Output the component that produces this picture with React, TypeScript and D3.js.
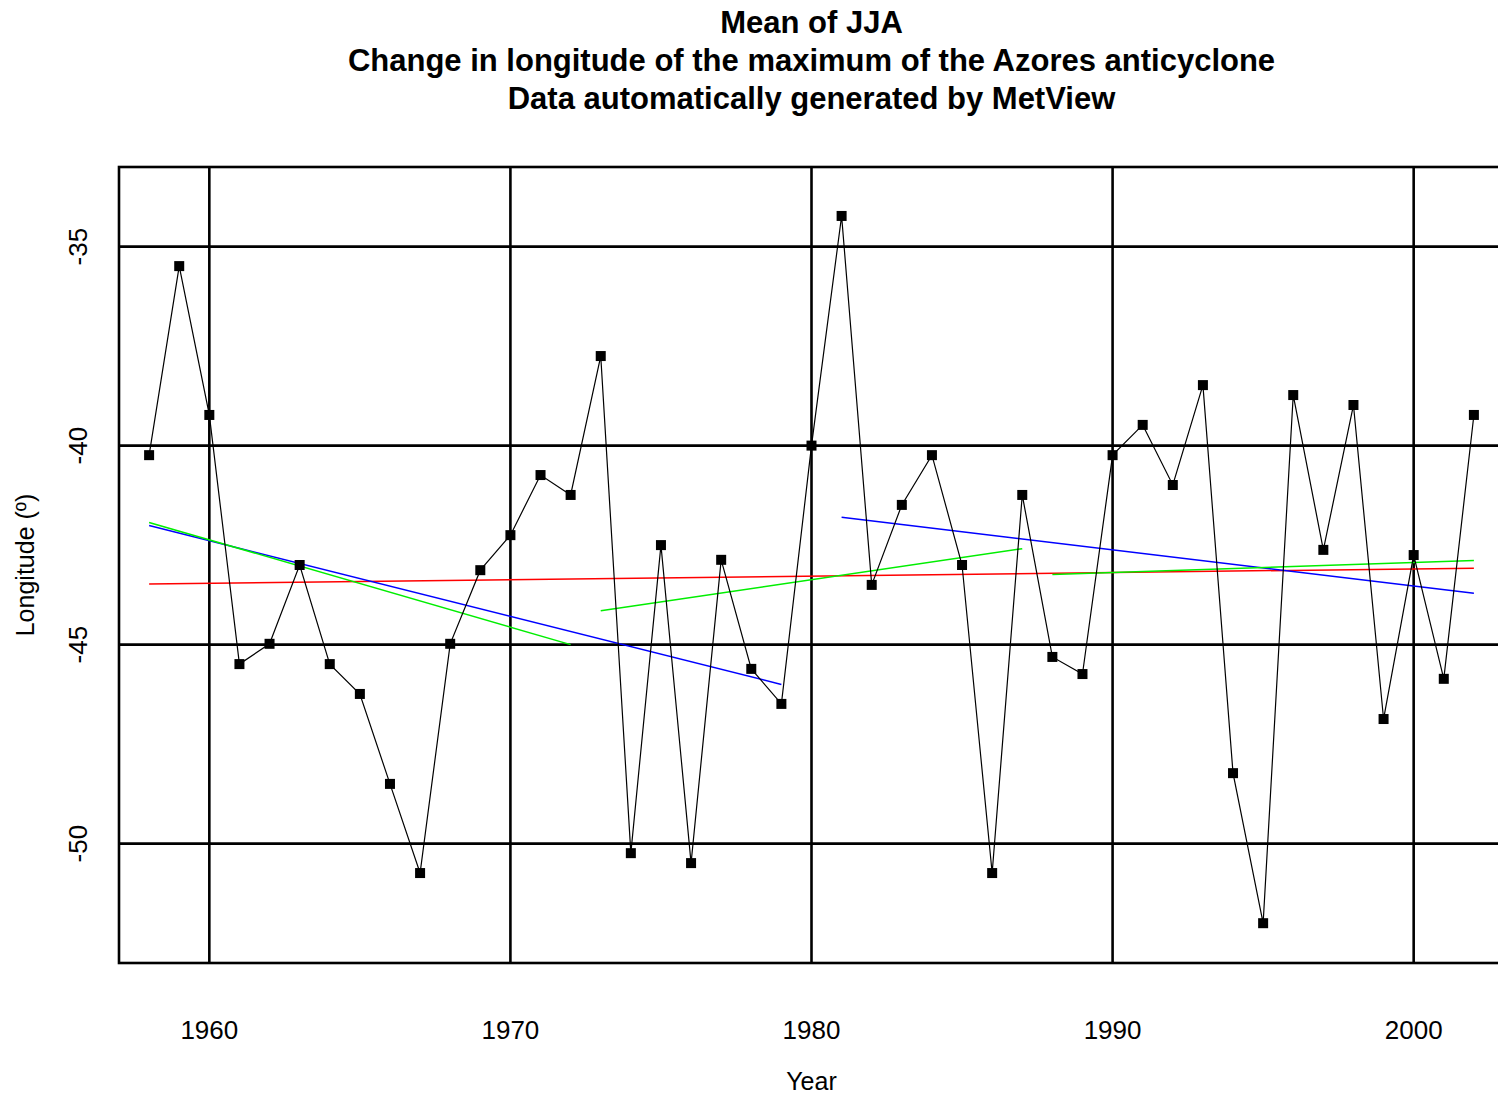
import React from "react";
import * as d3 from "d3";

const years = [
  1958, 1959, 1960, 1961, 1962, 1963, 1964, 1965, 1966, 1967, 1968, 1969,
  1970, 1971, 1972, 1973, 1974, 1975, 1976, 1977, 1978, 1979, 1980, 1981,
  1982, 1983, 1984, 1985, 1986, 1987, 1988, 1989, 1990, 1991, 1992, 1993,
  1994, 1995, 1996, 1997, 1998, 1999, 2000, 2001, 2002,
];

const longitude = [
  -40.24, -35.49, -39.23, -45.49, -44.98, -43.0, -45.49, -46.24, -48.5, -50.74,
  -44.98, -43.13, -42.25, -40.74, -41.24, -37.75, -50.24, -42.5, -50.49, -42.87,
  -45.61, -46.49, -40.0, -34.23, -43.5, -41.49, -40.24, -43.0, -50.74, -41.24,
  -45.31, -45.74, -40.24, -39.48, -40.99, -38.48, -48.23, -52.0, -38.73, -42.62,
  -38.98, -46.87, -42.75, -45.86, -39.23,
];

// fitted trend segments: [startYear, startValue, endYear, endValue]
const redTrend = [[1958, -43.48, 2002, -43.08]];
const blueTrend = [
  [1958, -42.01, 1979, -46.0],
  [1981, -41.8, 2002, -43.71],
];
const greenTrend = [
  [1958, -41.93, 1972, -45.0],
  [1973, -44.15, 1987, -42.59],
  [1988, -43.24, 2002, -42.89],
];

const xTicks = [1960, 1970, 1980, 1990, 2000];
const yTicks = [-35, -40, -45, -50];

const titleLines = [
  "Mean of JJA",
  "Change in longitude of the maximum of the Azores anticyclone",
  "Data automatically generated by MetView",
];

const W = 1498;
const H = 1097;
const font = "'Liberation Sans', Arial, Helvetica, sans-serif";

export default function App() {
  const x = d3.scaleLinear().domain([1957, 2003]).range([119, 1504]);
  const y = d3.scaleLinear().domain([-53, -33]).range([963, 167]);
  const [x0, x1] = x.range();
  const [y0, y1] = y.range();

  const line = d3
    .line<number>()
    .x((_, i) => x(years[i]))
    .y((d) => y(d));

  const trends = [
    { segs: redTrend, color: "#ff0000" },
    { segs: blueTrend, color: "#0000ff" },
    { segs: greenTrend, color: "#00ee00" },
  ];

  const cx = (x0 + x1) / 2;

  return (
    <div style={{ position: "absolute", left: 0, top: 0 }}>
      <svg width={W} height={H} style={{ display: "block", background: "#fff" }}>
        {titleLines.map((t, i) => (
          <text
            key={i}
            x={cx}
            y={33 + i * 38}
            textAnchor="middle"
            fontFamily={font}
            fontWeight="bold"
            fontSize={31}
            fill="#000"
          >
            {t}
          </text>
        ))}

        {/* grid */}
        {xTicks.map((t) => (
          <line key={"gx" + t} x1={x(t)} x2={x(t)} y1={y1} y2={y0} stroke="#000" strokeWidth={2.6} />
        ))}
        {yTicks.map((t) => (
          <line key={"gy" + t} x1={x0} x2={x1} y1={y(t)} y2={y(t)} stroke="#000" strokeWidth={2.6} />
        ))}
        <rect x={x0} y={y1} width={x1 - x0} height={y0 - y1} fill="none" stroke="#000" strokeWidth={2.6} />

        {/* trends */}
        {trends.map((tr, k) =>
          tr.segs.map((s, j) => (
            <line
              key={`t${k}-${j}`}
              x1={x(s[0])}
              y1={y(s[1])}
              x2={x(s[2])}
              y2={y(s[3])}
              stroke={tr.color}
              strokeWidth={1.5}
            />
          ))
        )}

        {/* series */}
        <path d={line(longitude) ?? ""} fill="none" stroke="#000" strokeWidth={1.2} />
        {longitude.map((v, i) => (
          <rect key={"m" + i} x={x(years[i]) - 5} y={y(v) - 5} width={10} height={10} fill="#000" />
        ))}

        {/* tick labels */}
        {xTicks.map((t) => (
          <text
            key={"lx" + t}
            x={x(t)}
            y={1039}
            textAnchor="middle"
            fontFamily={font}
            fontSize={26}
            fill="#000"
          >
            {t}
          </text>
        ))}
        {yTicks.map((t) => (
          <text
            key={"ly" + t}
            transform={`translate(87,${y(t)}) rotate(-90)`}
            textAnchor="middle"
            fontFamily={font}
            fontSize={26}
            fill="#000"
          >
            {t}
          </text>
        ))}

        <text x={cx} y={1090} textAnchor="middle" fontFamily={font} fontSize={25} fill="#000">
          Year
        </text>
        <text
          transform={`translate(34,${(y0 + y1) / 2}) rotate(-90)`}
          textAnchor="middle"
          fontFamily={font}
          fontSize={25}
          fill="#000"
        >
          Longitude (º)
        </text>
      </svg>
    </div>
  );
}
